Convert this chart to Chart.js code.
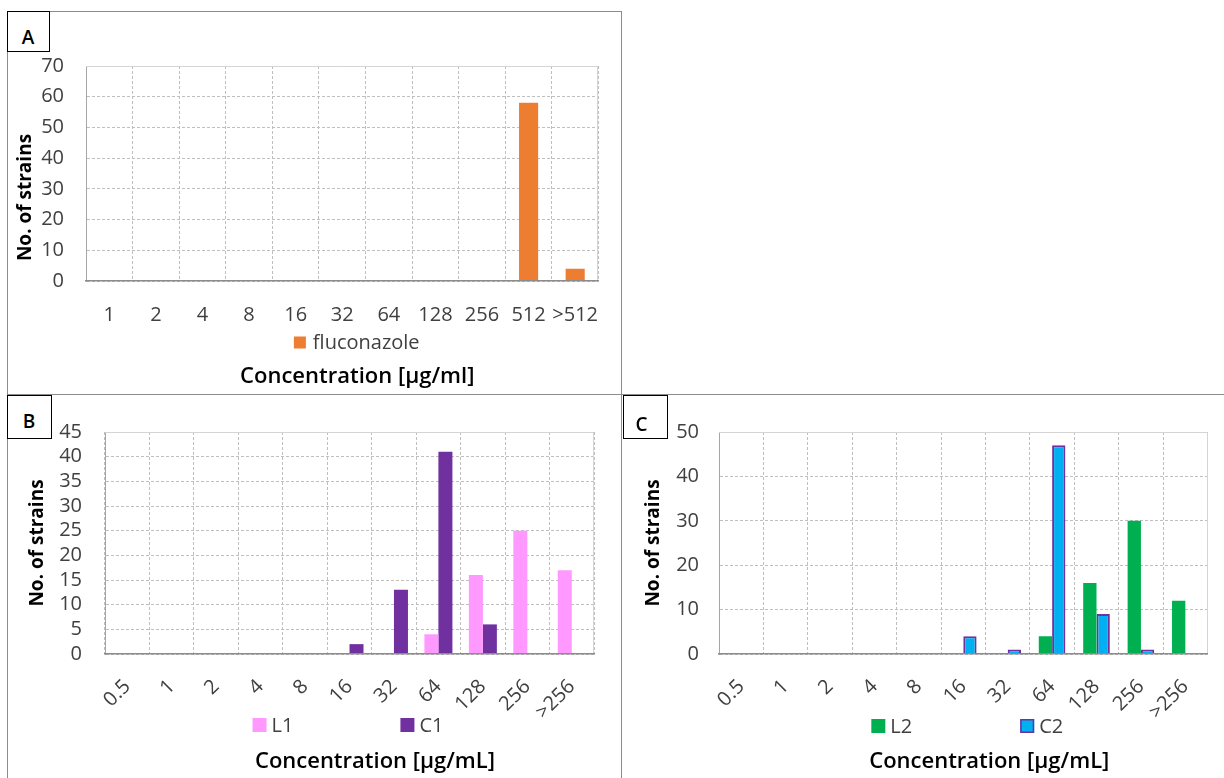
<!DOCTYPE html>
<html><head><meta charset="utf-8">
<script src="https://cdn.jsdelivr.net/npm/chart.js"></script>
<style>
html,body{margin:0;padding:0;background:#fff;}
body{width:1224px;height:778px;position:relative;overflow:hidden;font-family:'Open Sans',sans-serif;}
canvas{position:absolute;}
.ln{position:absolute;background:#8c8c8c;}
.box{position:absolute;box-sizing:border-box;border:1.5px solid #000;background:#fff;}
.let{position:absolute;width:40px;text-align:center;font:600 19px/1 'Open Sans',sans-serif;color:#000;}
</style></head><body>
<div class="ln" style="left:7px;top:11px;width:614px;height:1px"></div>
<div class="ln" style="left:7px;top:11px;width:1px;height:767px"></div>
<div class="ln" style="left:621px;top:11px;width:1px;height:767px"></div>
<div class="ln" style="left:7px;top:394px;width:1217px;height:1px"></div>

<canvas id="cA" width="614" height="382" style="left:7px;top:11px"></canvas>
<canvas id="cB" width="614" height="383" style="left:7px;top:395px"></canvas>
<canvas id="cC" width="603" height="383" style="left:621px;top:395px"></canvas>

<div class="box" style="left:7px;top:11px;width:43px;height:41px"></div>
<div class="let" style="left:8px;top:28.4px">A</div>
<div class="box" style="left:7px;top:395px;width:45px;height:44px"></div>
<div class="let" style="left:9px;top:412px">B</div>
<div class="box" style="left:623px;top:395px;width:45px;height:44px"></div>
<div class="let" style="left:621.5px;top:415px">C</div>

<script>
// ---- data ----
const catsA = ['1','2','4','8','16','32','64','128','256','512','>512'];
const fluconazole = [0,0,0,0,0,0,0,0,0,58,4];

const catsBC = ['0.5','1','2','4','8','16','32','64','128','256','>256'];
const L1 = [0,0,0,0,0,0,0,4,16,25,17];
const C1 = [0,0,0,0,0,2,13,41,6,0,0];
const L2 = [0,0,0,0,0,0,0,4,16,30,12];
const C2 = [0,0,0,0,0,4,1,47,9,1,0];

const yTicksA = {max: 70, step: 10};
const yTicksB = {max: 45, step: 5};
const yTicksC = {max: 50, step: 10};

const yTitle = 'No. of strains';
const xTitleA = 'Concentration [µg/ml]';
const xTitleBC = 'Concentration [µg/mL]';

// ---- styling ----
const FONT = "'Open Sans', sans-serif";
const TXT = '#404040';
const GRID = '#bfbfbf';
Chart.defaults.font.family = FONT;
Chart.defaults.color = TXT;

const tweak = {
  id: 'tweak',
  afterLayout(chart, args, o) {
    const ca = chart.chartArea;
    const tb = chart.titleBlock;
    if (tb) {
      const half = (tb.right - tb.left) / 2;
      const c = (ca.left + ca.right) / 2 + (o.titleDx || 0);
      tb.left = c - half; tb.right = c + half;
    }
    const s = chart.scales.y;
    if (o.yTitleDy && !s._shifted) {
      const orig = s.drawTitle;
      const dy = o.yTitleDy;
      s.drawTitle = function () {
        this.ctx.save(); this.ctx.translate(0, dy);
        orig.apply(this, arguments);
        this.ctx.restore();
      };
      s._shifted = true;
    }
  },
  beforeDatasetsDraw(chart, args, o) {
    const {ctx, chartArea: ca} = chart;
    ctx.save();
    ctx.strokeStyle = o.frame; ctx.lineWidth = 1;
    ctx.beginPath();
    ctx.moveTo(ca.left, Math.round(ca.top) + 0.5);
    ctx.lineTo(Math.round(ca.right) - 0.5, Math.round(ca.top) + 0.5);
    ctx.lineTo(Math.round(ca.right) - 0.5, ca.bottom);
    ctx.stroke();
    ctx.restore();
  },
  afterDraw(chart, args, o) {
    const {ctx, chartArea: ca} = chart;
    const L = o.legend;
    ctx.save();
    ctx.font = L.size + 'px ' + FONT;
    ctx.textBaseline = 'middle'; ctx.textAlign = 'left';
    const items = chart.data.datasets.map(d => ({t: d.label, f: d.backgroundColor, s: d.borderColor, w: d.borderWidth || 0}));
    const widths = items.map(it => L.box + L.textGap + ctx.measureText(it.t).width);
    const total = widths.reduce((a, b) => a + b, 0) + L.gap * (items.length - 1);
    let x = (ca.left + ca.right) / 2 + L.dx - total / 2;
    const y = ca.bottom + L.dy;
    items.forEach((it, i) => {
      ctx.fillStyle = it.f;
      ctx.fillRect(x, y - L.box / 2, L.box, L.box);
      if (it.w) {
        ctx.strokeStyle = it.s; ctx.lineWidth = 1.5;
        ctx.strokeRect(x + 0.75, y - L.box / 2 + 0.75, L.box - 1.5, L.box - 1.5);
      }
      ctx.fillStyle = TXT;
      ctx.fillText(it.t, x + L.box + L.textGap, y + 1);
      x += widths[i] + L.gap;
    });
    ctx.restore();
  }
};

function build(id, labels, datasets, o) {
  return new Chart(document.getElementById(id), {
    type: 'bar',
    data: {labels, datasets},
    options: {
      responsive: false, animation: false, devicePixelRatio: 1,
      layout: {padding: o.pad},
      datasets: {bar: {categoryPercentage: o.cp, barPercentage: o.bp}},
      scales: {
        x: {
          grid: {color: GRID, drawTicks: false, lineWidth: 1},
          border: {color: '#8c8c8c', width: 1.5, dash: [3, 2], z: 1},
          ticks: {font: {size: 20}, color: TXT, padding: o.xPad, autoSkip: false,
                  minRotation: o.rot, maxRotation: o.rot},
          afterFit: s => { s.height = o.xH; }
        },
        y: {
          min: 0, max: o.y.max,
          grid: {color: GRID, drawTicks: false, lineWidth: 1},
          border: {color: '#a6a6a6', width: 1, dash: [3, 2]},
          ticks: {stepSize: o.y.step, autoSkip: false, font: {size: 20}, color: TXT, padding: o.yPad},
          title: {display: true, text: yTitle, color: '#000',
                  font: {size: 19, weight: 'bold'}, padding: {top: o.yTitlePad, bottom: 0}},
          afterFit: s => { s.width = o.yW; }
        }
      },
      plugins: {
        legend: {display: false},
        tooltip: {enabled: false},
        title: {display: true, position: 'bottom', text: o.xTitle, color: '#000',
                font: {size: 22, weight: '600'}, padding: 0},
        tweak: {titleDx: o.titleDx, yTitleDy: o.yTitleDy || 0, frame: '#d4d4d4', legend: o.legend}
      }
    },
    plugins: [tweak]
  });
}

build('cA', catsA, [
  {label: 'fluconazole', data: fluconazole, backgroundColor: '#ED7D31'}
], {
  pad: {left: 0, top: 55, right: 21, bottom: 2.8}, yW: 79, yPad: 22, yTitlePad: 7.6,
  xH: 82.8, xPad: 22, rot: 0, y: yTicksA, cp: 0.82, bp: 0.5,
  xTitle: xTitleA, titleDx: 15, yTitleDy: 24,
  legend: {box: 12, textGap: 7, gap: 0, dx: 14.5, dy: 61.5, size: 20}
});

build('cB', catsBC, [
  {label: 'L1', data: L1, backgroundColor: '#FF99FF'},
  {label: 'C1', data: C1, backgroundColor: '#7030A0'}
], {
  pad: {left: 0, top: 37, right: 27, bottom: 2.8}, yW: 98, yPad: 23, yTitlePad: 19.1,
  xH: 94.8, xPad: 21, rot: 45, y: yTicksB, cp: 0.63, bp: 1,
  xTitle: xTitleBC, titleDx: 25.5,
  legend: {box: 14, textGap: 5, gap: 107, dx: -1.5, dy: 71, size: 20}
});

build('cC', catsBC, [
  {label: 'L2', data: L2, backgroundColor: '#00B050'},
  {label: 'C2', data: C2, backgroundColor: '#00B0F0', borderColor: '#7030A0', borderWidth: 2}
], {
  pad: {left: 0, top: 37, right: 15, bottom: 2.8}, yW: 98, yPad: 20, yTitlePad: 21.6,
  xH: 94.8, xPad: 21, rot: 45, y: yTicksC, cp: 0.6, bp: 1,
  xTitle: xTitleBC, titleDx: 26,
  legend: {box: 14, textGap: 5, gap: 108, dx: 4, dy: 72, size: 20}
});
</script>
</body></html>
